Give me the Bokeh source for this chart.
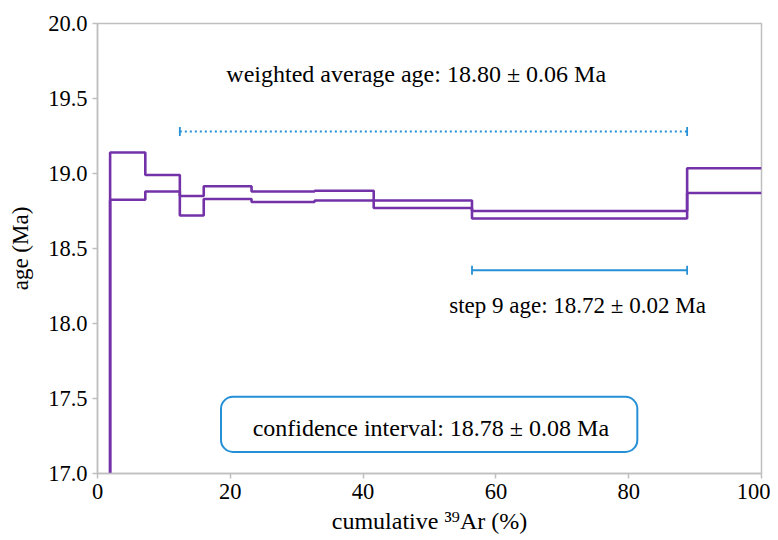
from bokeh.plotting import figure
from bokeh.models import Range1d, NumeralTickFormatter, ColumnDataSource
from bokeh.core.properties import value
from bokeh.embed import file_html
from bokeh.resources import INLINE

# ---- data ----
step_edges = [0.0, 1.9, 7.2, 12.4, 16.0, 23.2, 32.7, 41.6, 56.4, 88.8, 100.0]
age_upper = [16.0, 19.14, 18.99, 18.85, 18.915, 18.88, 18.885, 18.82, 18.75, 19.035]
age_lower = [16.0, 18.825, 18.88, 18.72, 18.83, 18.81, 18.82, 18.77, 18.70, 18.87]

wa_start, wa_end, wa_level = 12.4, 88.8, 19.28
s9_start, s9_end, s9_level = 56.4, 88.8, 18.355
cap_half = 0.03

wa_text = "weighted average age: 18.80 ± 0.06 Ma"
s9_text = "step 9 age: 18.72 ± 0.02 Ma"
ci_text = "confidence interval: 18.78 ± 0.08 Ma"
ci_box = dict(left=18.6, right=81.3, bottom=17.144, top=17.511)

x_ticks = [0, 20, 40, 60, 80, 100]
y_ticks = [17.0, 17.5, 18.0, 18.5, 19.0, 19.5, 20.0]

PURPLE = "#7332a8"
BLUE = "#2590d6"
GRAY = "#bfbfbf"
FONT = "'Liberation Serif', 'Times New Roman', serif"

p = figure(width=770, height=532, frame_width=664, frame_height=450,
           x_range=Range1d(0, 100), y_range=Range1d(17, 20),
           output_backend="svg", toolbar_location=None,
           min_border_left=97, min_border_right=9, min_border_top=23, min_border_bottom=59)
p.grid.visible = False
p.outline_line_color = GRAY
p.outline_line_width = 1.5
p.background_fill_color = "white"
p.border_fill_color = "white"

# steps
xs = step_edges
p.step(xs, age_upper + [age_upper[-1]], mode="after", line_color=PURPLE, line_width=2.6)
p.step(xs, age_lower + [age_lower[-1]], mode="after", line_color=PURPLE, line_width=2.6)

# weighted average (dotted)
p.segment(x0=[wa_start], y0=[wa_level], x1=[wa_end], y1=[wa_level],
          line_color=BLUE, line_width=2, line_dash="2 3")
p.segment(x0=[wa_start, wa_end], y0=[wa_level - cap_half] * 2,
          x1=[wa_start, wa_end], y1=[wa_level + cap_half] * 2,
          line_color=BLUE, line_width=1.8)

# step 9 (solid)
p.segment(x0=[s9_start], y0=[s9_level], x1=[s9_end], y1=[s9_level],
          line_color=BLUE, line_width=2)
p.segment(x0=[s9_start, s9_end], y0=[s9_level - cap_half] * 2,
          x1=[s9_start, s9_end], y1=[s9_level + cap_half] * 2,
          line_color=BLUE, line_width=1.8)

# confidence box
p.quad(left=[ci_box["left"]], right=[ci_box["right"]], bottom=[ci_box["bottom"]], top=[ci_box["top"]],
       fill_color="white", line_color=BLUE, line_width=2, border_radius=12)

# texts
txt = ColumnDataSource(dict(x=[48.0, 72.3, 50.2], y=[19.665, 18.12, 17.305],
                            t=[wa_text, s9_text, ci_text],
                            fs=["24px", "23px", "24px"]))
p.text(x="x", y="y", text="t", source=txt, text_font=value(FONT), text_font_size="fs",
       text_align="center", text_baseline="middle", text_color="black")

# axes
p.xaxis.ticker = x_ticks
p.yaxis.ticker = y_ticks
p.xaxis.formatter = NumeralTickFormatter(format="0")
p.yaxis.formatter = NumeralTickFormatter(format="0.0")
for ax in (p.xaxis[0], p.yaxis[0]):
    ax.axis_line_color = GRAY
    ax.axis_line_width = 1.5
    ax.major_tick_line_color = GRAY
    ax.major_tick_line_width = 1.5
    ax.major_tick_out = 5
    ax.major_tick_in = 0
    ax.minor_tick_line_color = None
    ax.major_label_text_font = FONT
    ax.major_label_text_font_size = "22.5px"
    ax.major_label_text_color = "black"
    ax.axis_label_text_font = FONT
    ax.axis_label_text_font_size = "23px"
    ax.axis_label_text_font_style = "normal"
    ax.axis_label_text_color = "black"

p.xaxis.axis_label = "cumulative ³⁹Ar (%)"
p.xaxis.axis_label_text_font_size = "24px"
p.yaxis.axis_label = "age (Ma)"
p.xaxis.major_label_standoff = 5
p.xaxis.axis_label_standoff = 6
p.yaxis.major_label_standoff = 5
p.yaxis.axis_label_standoff = 12

open("out.html", "w").write(file_html(p, INLINE))
